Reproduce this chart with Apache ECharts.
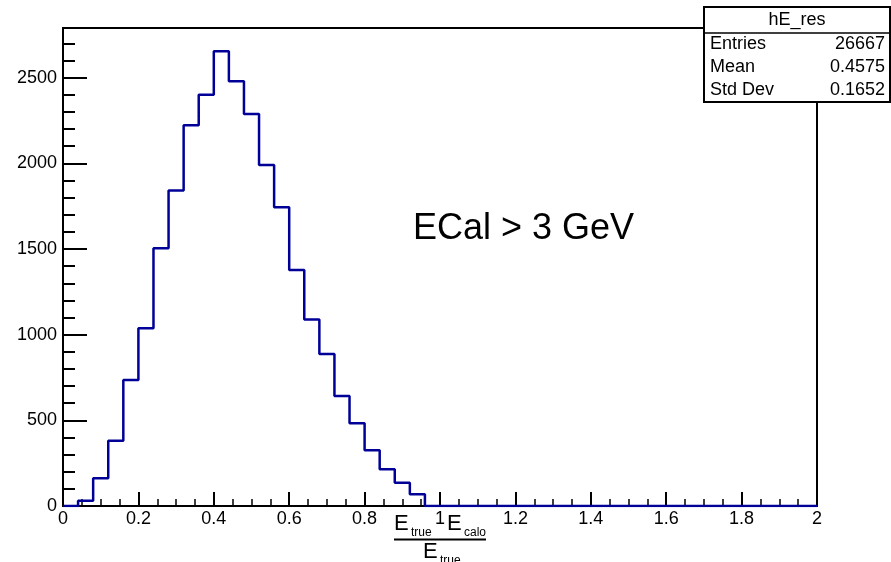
<!DOCTYPE html>
<html>
<head>
<meta charset="utf-8">
<script src="https://cdn.jsdelivr.net/npm/echarts@6/dist/echarts.min.js"></script>
<style>
  html, body { margin: 0; padding: 0; background: #fff; }
  #chart { width: 891px; height: 562px; }
</style>
</head>
<body>
<div id="chart"></div>
<script>
// histogram hE_res, 50 bins of 0.04 between 0 and 2
const binWidth = 0.04
const counts = [
  0, 30, 162, 381, 735, 1037, 1504, 1841, 2222, 2401,
  2654, 2479, 2288, 1991, 1744, 1378, 1088, 887, 642, 483,
  325, 214, 136, 68, 0, 0, 0, 0, 0, 0,
  0, 0, 0, 0, 0, 0, 0, 0, 0, 0,
  0, 0, 0, 0, 0, 0, 0, 0, 0, 0
]
const statsLabels = ['Entries', 'Mean', 'Std Dev']
const statsValues = ['26667', '0.4575', '0.1652']
const histName = 'hE_res'
const yMax = 2790

const font = 'Liberation Sans, Arial, sans-serif'

// step line points at the bin low edges, closed at the upper edge
const points = counts.map((c, i) => [+(i * binWidth).toFixed(2), c])
points.push([+(counts.length * binWidth).toFixed(2), counts[counts.length - 1]])

const chart = echarts.init(document.getElementById('chart'))

const statsBox = { x: 704, y: 7, w: 186, h: 95 }
const rowY = [44, 67, 90]

const txt = (x, y, text, size) => ({
  type: 'text',
  x: x,
  y: y,
  style: { text: text, font: size + 'px ' + font, fill: '#000', verticalAlign: 'middle' }
})

const graphics = [
  {
    type: 'rect',
    z: 100,
    shape: { x: statsBox.x, y: statsBox.y, width: statsBox.w, height: statsBox.h },
    style: { fill: '#fff', stroke: '#000', lineWidth: 2 }
  },
  {
    type: 'line',
    z: 101,
    shape: { x1: statsBox.x, y1: 33, x2: statsBox.x + statsBox.w, y2: 33 },
    style: { stroke: '#000', lineWidth: 1.5 }
  },
  {
    type: 'text',
    z: 101,
    x: statsBox.x + statsBox.w / 2,
    y: 20,
    style: { text: histName, font: '18px ' + font, fill: '#000', align: 'center', verticalAlign: 'middle' }
  },
  {
    type: 'text',
    z: 10,
    x: 413,
    y: 229,
    style: { text: 'ECal > 3 GeV', font: '36px ' + font, fill: '#000', verticalAlign: 'middle' }
  },
  // x axis title: (E_true - E_calo) / E_true
  txt(394, 524, 'E', 22),
  txt(411, 533, 'true', 12),
  txt(447, 524, 'E', 22),
  txt(464, 533, 'calo', 12),
  {
    type: 'line',
    shape: { x1: 394, y1: 539.5, x2: 486, y2: 539.5 },
    style: { stroke: '#000', lineWidth: 2 }
  },
  txt(423, 552, 'E', 22),
  txt(440, 561, 'true', 12)
]

statsLabels.forEach((lab, i) => {
  graphics.push({
    type: 'text',
    z: 101,
    x: statsBox.x + 6,
    y: rowY[i],
    style: { text: lab, font: '18px ' + font, fill: '#000', verticalAlign: 'middle' }
  })
  graphics.push({
    type: 'text',
    z: 101,
    x: statsBox.x + statsBox.w - 5,
    y: rowY[i],
    style: { text: statsValues[i], font: '18px ' + font, fill: '#000', align: 'right', verticalAlign: 'middle' }
  })
})

const option = {
  animation: false,
  backgroundColor: '#fff',
  grid: {
    left: 63,
    top: 28,
    right: 74,
    bottom: 56,
    show: true,
    borderColor: '#000',
    borderWidth: 2,
    containLabel: false
  },
  xAxis: {
    type: 'value',
    min: 0,
    max: 2,
    interval: 0.2,
    axisLine: { show: true, lineStyle: { color: '#000', width: 2 } },
    axisTick: { show: true, inside: true, length: 14, lineStyle: { color: '#000', width: 2 } },
    minorTick: { show: true, splitNumber: 4, length: 7, lineStyle: { color: '#000', width: 1.5 } },
    splitLine: { show: false },
    axisLabel: {
      color: '#000',
      fontFamily: font,
      fontSize: 18,
      margin: 4,
      formatter: (v) => String(+v.toFixed(1))
    }
  },
  yAxis: [
    {
      type: 'value',
      position: 'left',
      min: 0,
      max: yMax,
      interval: 500,
      axisLine: { show: true, lineStyle: { color: '#000', width: 2 } },
      axisTick: { show: true, inside: true, length: 24, lineStyle: { color: '#000', width: 2 } },
      splitLine: { show: false },
      axisLabel: {
        color: '#000',
        fontFamily: font,
        fontSize: 18,
        margin: 6,
        showMaxLabel: false,
        formatter: (v) => String(v)
      }
    },
    {
      type: 'value',
      position: 'left',
      min: 0,
      max: yMax,
      interval: 100,
      axisLine: { show: false },
      axisTick: { show: true, inside: true, length: 12, lineStyle: { color: '#000', width: 2 } },
      splitLine: { show: false },
      axisLabel: { show: false }
    }
  ],
  series: [
    {
      name: histName,
      type: 'line',
      step: 'end',
      yAxisIndex: 0,
      showSymbol: false,
      data: points,
      lineStyle: { color: '#000099', width: 2.5 },
      z: 5
    }
  ],
  graphic: graphics
}
chart.setOption(option)
</script>
</body>
</html>
